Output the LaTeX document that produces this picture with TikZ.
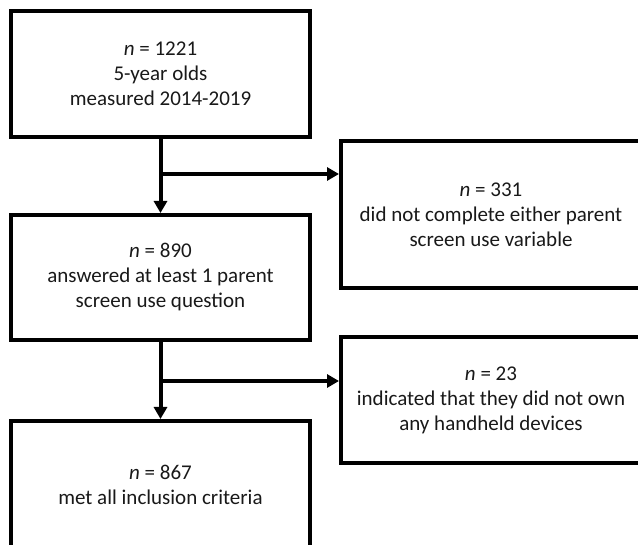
\documentclass[tikz,border=0pt]{standalone}
\usepackage{fontspec}
\setmainfont{Carlito}
\usetikzlibrary{arrows.meta}
\tikzset{
  box/.style={draw=black, line width=4pt, fill=white, align=center, inner sep=0pt,
    font=\fontsize{21}{25}\selectfont, text=black!90},
  arr/.style={line width=4pt, -{Triangle[length=12pt,width=13pt]}},
  ln/.style={line width=4pt}
}
\begin{document}
\begin{tikzpicture}[x=1pt,y=-1pt]
\path[use as bounding box, clip] (0,0) rectangle (638,545);
\fill[white] (0,0) rectangle (638,545);
\node[box, minimum width=299pt, minimum height=126pt] (b1) at (160.5,74)
  {\textit{n} = 1221\\5-year olds\\measured 2014-2019};
\node[box, minimum width=299pt, minimum height=125pt] (b3) at (160.5,277.5)
  {\textit{n} = 890\\answered at least 1 parent\\screen use question};
\node[box, minimum width=299pt, minimum height=127pt] (b5) at (160.5,484.5)
  {\textit{n} = 867\\met all inclusion criteria};
\node[box, minimum width=300pt, minimum height=147pt] (b2) at (491,214.5)
  {\textit{n} = 331\\did not complete either parent\\screen use variable};
\node[box, minimum width=300pt, minimum height=126pt] (b4) at (491,400)
  {\textit{n} = 23\\indicated that they did not own\\any handheld devices};
\coordinate (j1) at (161,174);
\coordinate (j2) at (161,381);
\draw[arr] (b1.south) -- (b3.north);
\draw[arr] (b3.south) -- (b5.north);
\draw[arr] (j1) -- (j1 -| b2.west);
\draw[arr] (j2) -- (j2 -| b4.west);
\end{tikzpicture}
\end{document}
